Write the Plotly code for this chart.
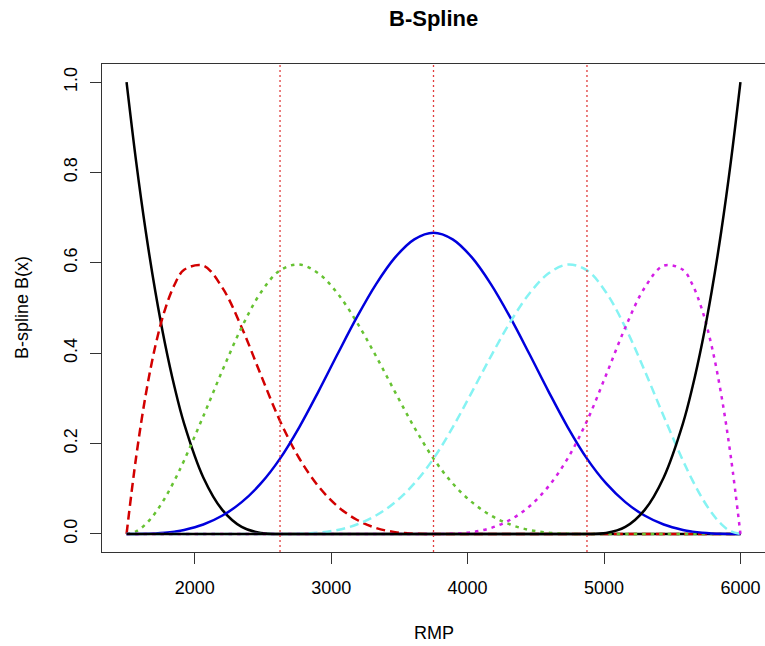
import plotly.graph_objects as go

# ---- data ----
rmp = [1500, 1570.3125, 1640.625, 1710.9375, 1781.25, 1851.5625, 1921.875, 2062.5,
       2203.125, 2343.75, 2484.375, 2625, 2765.625, 2906.25, 3046.875, 3187.5,
       3328.125, 3468.75, 3609.375, 3750, 3890.625, 4031.25, 4171.875, 4312.5,
       4453.125, 4593.75, 4734.375, 4875, 5015.625, 5156.25, 5296.875, 5437.5,
       5578.125, 5648.4375, 5718.75, 5789.0625, 5859.375, 5929.6875, 6000]

basis_1 = [1.0, 0.824, 0.6699, 0.5364, 0.4219, 0.325, 0.2441, 0.125, 0.0527, 0.0156,
           0.002, 0, 0, 0, 0, 0, 0, 0, 0, 0, 0, 0, 0, 0, 0, 0, 0, 0, 0, 0, 0, 0,
           0, 0, 0, 0, 0, 0, 0]
basis_2 = [0, 0.1703, 0.3081, 0.4158, 0.4961, 0.5515, 0.5845, 0.5938, 0.5444, 0.457,
           0.3521, 0.25, 0.1675, 0.1055, 0.061, 0.0313, 0.0132, 0.0039, 0.0005, 0,
           0, 0, 0, 0, 0, 0, 0, 0, 0, 0, 0, 0, 0, 0, 0, 0, 0, 0, 0]
basis_3 = [0, 0.0056, 0.0216, 0.0467, 0.0794, 0.1185, 0.1626, 0.2604, 0.3621, 0.457,
           0.5343, 0.5833, 0.5962, 0.5768, 0.5321, 0.4688, 0.3937, 0.3138, 0.2358,
           0.1667, 0.1117, 0.0703, 0.0407, 0.0208, 0.0088, 0.0026, 0.0003, 0,
           0, 0, 0, 0, 0, 0, 0, 0, 0, 0, 0]
basis_4 = [0, 0.0000, 0.0003, 0.0011, 0.0026, 0.0051, 0.0088, 0.0208, 0.0407, 0.0703,
           0.1117, 0.1667, 0.236, 0.3151, 0.3981, 0.4792, 0.5524, 0.612, 0.652,
           0.6667, 0.652, 0.612, 0.5524, 0.4792, 0.3981, 0.3151, 0.236, 0.1667,
           0.1117, 0.0703, 0.0407, 0.0208, 0.0088, 0.0051, 0.0026, 0.0011, 0.0003,
           0.0000, 0]
basis_5 = [0, 0, 0, 0, 0, 0, 0, 0, 0, 0, 0, 0,
           0.0003, 0.0026, 0.0088, 0.0208, 0.0407, 0.0703, 0.1117, 0.1667,
           0.2358, 0.3138, 0.3937, 0.4688, 0.5321, 0.5768, 0.5962, 0.5833,
           0.5343, 0.457, 0.3621, 0.2604, 0.1626, 0.1185, 0.0794, 0.0467, 0.0216,
           0.0056, 0]
basis_6 = [0, 0, 0, 0, 0, 0, 0, 0, 0, 0, 0, 0, 0, 0, 0, 0, 0, 0, 0, 0,
           0.0005, 0.0039, 0.0132, 0.0313, 0.061, 0.1055, 0.1675, 0.25,
           0.3521, 0.457, 0.5444, 0.5938, 0.5845, 0.5515, 0.4961, 0.4158, 0.3081,
           0.1703, 0]
basis_7 = [0, 0, 0, 0, 0, 0, 0, 0, 0, 0, 0, 0, 0, 0, 0, 0, 0, 0, 0, 0, 0, 0, 0, 0,
           0, 0, 0, 0, 0.002, 0.0156, 0.0527, 0.125, 0.2441, 0.325, 0.4219, 0.5364,
           0.6699, 0.824, 1.0]

knots = [2625, 3750, 4875]
x_ticks = [2000, 3000, 4000, 5000, 6000]
y_ticks = [0.0, 0.2, 0.4, 0.6, 0.8, 1.0]
y_tick_text = ["0.0", "0.2", "0.4", "0.6", "0.8", "1.0"]

series = [basis_1, basis_2, basis_3, basis_4, basis_5, basis_6, basis_7]
colors = ["#000000", "#d20000", "#66c232", "#0000dd", "#86f3f3", "#d41ee6", "#000000"]
dashes = ["solid", "9px,5px", "3.5px,5px", "solid", "9px,5px", "3.5px,5px", "solid"]

FONT = "Liberation Sans, Arial, Helvetica, sans-serif"

fig = go.Figure()
for vals, c, d in zip(series, colors, dashes):
    fig.add_trace(go.Scatter(x=rmp, y=vals, mode="lines",
                             line=dict(color=c, width=2.5, dash=d, shape="spline", smoothing=1.0),
                             showlegend=False, hoverinfo="skip"))

for k in knots:
    fig.add_shape(type="line", xref="x", yref="paper", x0=k, x1=k, y0=0, y1=1,
                  line=dict(color="#e03c3c", width=1.3, dash="2px,3px"), layer="above")

fig.update_layout(
    width=765, height=646,
    margin=dict(l=102, r=0, t=64, b=94),
    paper_bgcolor="white", plot_bgcolor="white",
    font=dict(family=FONT, size=18, color="black"),
    showlegend=False,
)
fig.update_xaxes(range=[1320, 6180], tickvals=x_ticks, ticks="outside", ticklen=11,
                 tickwidth=1.2, tickcolor="#333", showline=True, linecolor="#333",
                 linewidth=1.3, mirror=True, showgrid=False, zeroline=False,
                 ticklabelstandoff=8, tickfont=dict(size=18))
fig.update_yaxes(range=[-0.04, 1.04], tickvals=y_ticks, ticktext=y_tick_text,
                 ticks="outside", ticklen=11, tickwidth=1.2, tickcolor="#333",
                 showline=True, linecolor="#333", linewidth=1.3, showgrid=False,
                 zeroline=False, tickangle=-90, ticklabelstandoff=6, tickfont=dict(size=18))

fig.add_annotation(text="<b>B-Spline</b>", xref="paper", yref="paper", x=0.5, y=(552 - 18) / 488,
                   showarrow=False, font=dict(size=22), xanchor="center", yanchor="middle")
fig.add_annotation(text="RMP", xref="paper", yref="paper", x=0.5, y=(552 - 633) / 488,
                   showarrow=False, font=dict(size=18), xanchor="center", yanchor="middle")
fig.add_annotation(text="B-spline B(x)", xref="paper", yref="paper", x=(22 - 102) / 663, y=0.5,
                   showarrow=False, font=dict(size=18), textangle=-90,
                   xanchor="center", yanchor="middle")

fig.write_html("out.html")
